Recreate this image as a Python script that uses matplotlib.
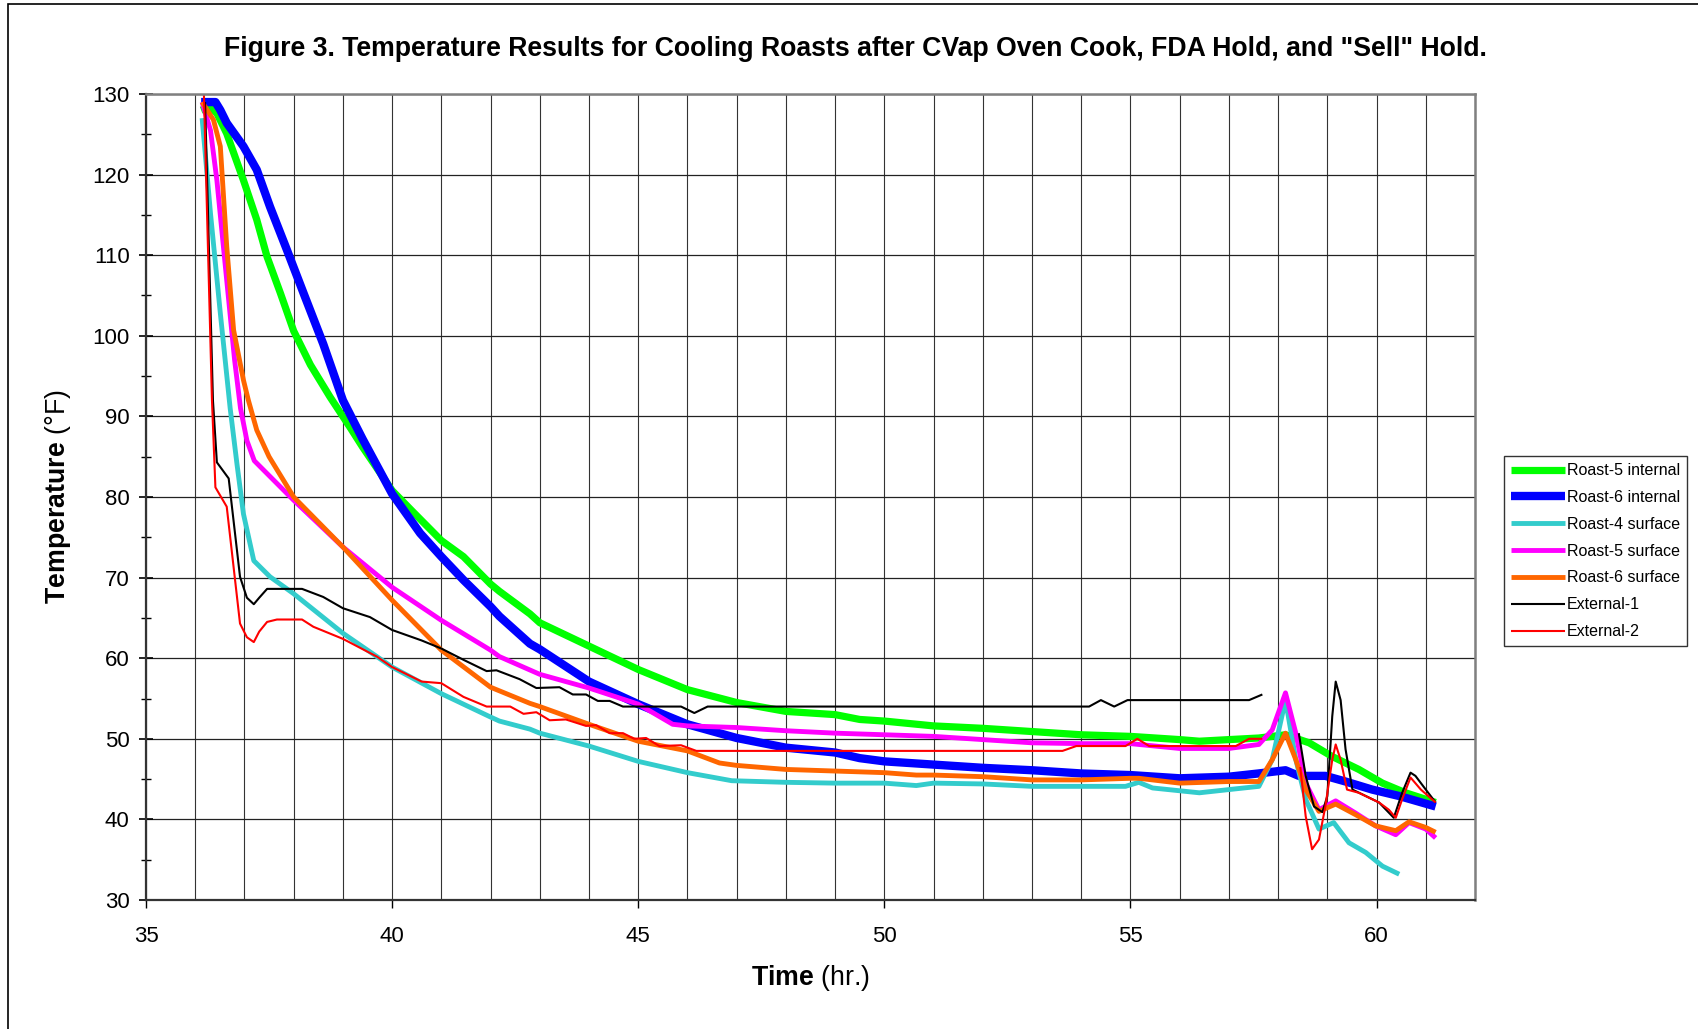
import numpy as np
import matplotlib
matplotlib.use("Agg")
import matplotlib.pyplot as plt
from matplotlib.patches import Rectangle
from matplotlib.ticker import MultipleLocator

plt.rcParams['font.family'] = ['Liberation Sans', 'DejaVu Sans']
plt.rcParams['mathtext.fontset'] = 'custom'
plt.rcParams['mathtext.rm'] = 'Liberation Sans'
plt.rcParams['mathtext.bf'] = 'Liberation Sans:bold'

nan = np.nan

# Roast-5 internal
r5i_t = [36.12, 36.3, 36.44, 36.64, 36.98, 37.25, 37.46, 37.73, 38.0, 38.34, 38.74, 39.15, 39.4, 40.0, 40.4,
         41.0, 41.45, 42.0, 42.18, 42.8, 43.0, 44.0, 45.0, 46.0, 47.0, 48.0, 49.0, 49.5, 50.0, 51.0, 52.0,
         53.0, 54.0, 55.0, 56.0, 56.4, 57.0, 57.61, 58.15, 58.63, 59.1, 59.64, 60.12, 60.59, 61.2]
r5i_T = [128.0, 128.4, 127.6, 125.1, 119.3, 114.4, 109.8, 105.3, 100.6, 96.4, 92.4, 88.6, 86.2, 80.8, 78.3,
         74.6, 72.6, 69.2, 68.3, 65.5, 64.4, 61.5, 58.6, 56.1, 54.5, 53.4, 53.0, 52.4, 52.2, 51.6, 51.3,
         50.9, 50.5, 50.3, 49.9, 49.7, 49.9, 50.1, 50.5, 49.5, 47.8, 46.2, 44.5, 43.3, 42.1]

# Roast-6 internal
r6i_t = [36.12, 36.41, 36.51, 36.64, 36.98, 37.25, 37.52, 37.86, 38.2, 38.6, 39.0, 39.4, 40.0, 40.57, 41.0,
         41.45, 42.0, 42.18, 42.8, 43.0, 44.0, 45.0, 46.0, 47.0, 48.0, 49.0, 49.5, 50.0, 51.0, 52.0, 53.0,
         54.0, 55.0, 56.0, 57.0, 57.6, 58.15, 58.42, 58.96, 59.37, 59.91, 60.46, 61.2]
r6i_T = [129.0, 129.0, 128.0, 126.4, 123.5, 120.6, 116.0, 110.7, 105.3, 99.0, 92.0, 87.2, 80.4, 75.5, 72.6,
         69.7, 66.4, 65.2, 61.8, 61.1, 57.1, 54.3, 51.8, 50.1, 48.9, 48.3, 47.6, 47.2, 46.8, 46.4, 46.1,
         45.7, 45.5, 45.1, 45.3, 45.7, 46.1, 45.4, 45.4, 44.7, 43.7, 42.9, 41.6]

# Roast-4 surface
r4s_t = [36.14, 36.31, 36.51, 36.71, 36.85, 36.98, 37.19, 37.52, 38.0, 39.0, 40.0, 41.0, 42.0, 42.18, 42.8,
         43.0, 44.0, 45.0, 46.0, 46.9, 48.0, 49.0, 50.0, 50.65, 51.0, 52.0, 53.0, 54.0, 54.9, 55.17, 55.45,
         56.4, 57.0, 57.61, 57.88, 58.15, 58.36, 58.56, 58.83, 59.13, 59.44, 59.78, 60.12, 60.46]
r4s_T = [127.0, 115.2, 102.8, 91.0, 84.0, 77.9, 72.1, 70.1, 68.0, 63.1, 58.9, 55.6, 52.7, 52.2, 51.2,
         50.7, 49.1, 47.2, 45.8, 44.8, 44.6, 44.5, 44.5, 44.2, 44.5, 44.4, 44.1, 44.1, 44.1, 44.6, 43.9,
         43.3, 43.7, 44.1, 47.4, 54.8, 47.4, 42.5, 38.8, 39.6, 37.1, 35.9, 34.2, 33.2]

# Roast-5 surface
r5s_t = [36.14, 36.31, 36.44, 36.64, 36.8, 36.92, 37.05, 37.2, 38.0, 39.0, 40.0, 41.0, 42.0, 42.18, 43.0,
         44.0, 45.0, 45.7, 46.0, 47.0, 48.0, 49.0, 50.0, 51.0, 52.0, 53.0, 54.0, 55.0, 56.0, 57.0, 57.61,
         57.88, 58.15, 58.36, 58.56, 58.83, 59.17, 59.57, 59.98, 60.39, 60.66, 61.0, 61.2]
r5s_T = [129.0, 125.5, 119.3, 106.9, 97.0, 91.0, 87.0, 84.5, 79.6, 73.8, 68.8, 64.7, 61.0, 60.2, 58.0,
         56.3, 54.3, 51.8, 51.6, 51.4, 51.0, 50.7, 50.5, 50.3, 49.9, 49.5, 49.4, 49.4, 48.8, 48.8, 49.3,
         51.1, 55.7, 50.7, 44.5, 41.2, 42.3, 40.8, 39.2, 38.1, 39.6, 38.8, 37.7]

# Roast-6 surface
r6s_t = [36.14, 36.37, 36.51, 36.64, 36.78, 36.98, 37.08, 37.25, 37.5, 38.0, 39.0, 40.0, 41.0, 42.0, 42.8,
         43.0, 44.0, 45.0, 46.0, 46.65, 47.0, 48.0, 49.0, 50.0, 50.65, 51.0, 52.0, 53.0, 54.0, 55.0, 55.17,
         56.0, 57.0, 57.61, 57.88, 58.15, 58.36, 58.56, 58.83, 59.17, 59.57, 59.98, 60.39, 60.66, 61.0, 61.2]
r6s_T = [129.0, 126.8, 123.5, 111.1, 100.7, 94.5, 92.0, 88.3, 85.0, 80.0, 73.8, 67.2, 61.0, 56.4, 54.4,
         54.0, 51.8, 49.7, 48.5, 47.0, 46.7, 46.2, 46.0, 45.8, 45.5, 45.5, 45.3, 44.9, 44.9, 45.1, 45.1,
         44.5, 44.7, 44.7, 47.4, 50.7, 47.4, 43.7, 41.0, 41.9, 40.6, 39.2, 38.6, 39.7, 39.0, 38.4]

# External-1 (gap between segments)
ext1_t = [36.2, 36.36, 36.44, 36.68, 36.91, 37.05, 37.19, 37.3, 37.46, 38.17, 38.6, 39.0, 39.55, 40.0, 40.6,
          41.0, 41.45, 41.92, 42.12, 42.59, 42.93, 43.4, 43.67, 43.94, 44.18, 44.42, 44.69, 45.87, 46.14,
          46.41, 54.16, 54.4, 54.67, 54.94, 57.41, 57.68, nan,
          58.42, 58.56, 58.73, 58.9, 59.0, 59.1, 59.17, 59.27, 59.37, 59.51, 59.78, 60.05, 60.35, 60.52,
          60.69, 60.79, 61.0, 61.2]
ext1_T = [129.0, 92.0, 84.3, 82.3, 70.1, 67.5, 66.7, 67.5, 68.6, 68.6, 67.6, 66.2, 65.1, 63.5, 62.2,
          61.2, 59.8, 58.4, 58.5, 57.4, 56.3, 56.4, 55.5, 55.5, 54.7, 54.7, 54.0, 54.0, 53.2,
          54.0, 54.0, 54.8, 54.0, 54.8, 54.8, 55.5, nan,
          50.7, 45.4, 41.6, 40.9, 42.9, 52.8, 57.1, 54.8, 48.7, 43.7, 42.9, 42.1, 40.2, 43.3,
          45.8, 45.4, 43.7, 42.1]

# External-2 (gap between segments)
ext2_t = [36.17, 36.34, 36.41, 36.64, 36.91, 37.05, 37.19, 37.3, 37.46, 37.66, 38.17, 38.4, 39.0, 39.69,
          40.0, 40.6, 41.0, 41.45, 41.92, 42.4, 42.67, 42.93, 43.2, 43.53, 43.94, 44.14, 44.42, 44.69, 44.92,
          45.16, 45.43, 45.87, 46.18, 53.62, 53.9, 54.9, 55.14, 55.38, 57.14, 57.41, 57.68, nan,
          58.45, 58.56, 58.69, 58.83, 58.96, 59.1, 59.17, 59.27, 59.4, 59.64, 60.05, 60.25, 60.39, 60.52,
          60.69, 60.9, 61.2]
ext2_T = [131.5, 92.0, 81.2, 78.8, 64.3, 62.6, 62.0, 63.3, 64.5, 64.8, 64.8, 63.9, 62.4, 60.2,
          58.9, 57.1, 56.9, 55.2, 54.0, 54.0, 53.1, 53.3, 52.3, 52.4, 51.6, 51.7, 50.7, 50.7, 50.0,
          50.1, 49.1, 49.2, 48.5, 48.5, 49.1, 49.1, 50.0, 49.1, 49.1, 50.0, 50.0, nan,
          46.5, 40.4, 36.3, 37.5, 41.6, 47.4, 49.3, 47.4, 43.7, 43.3, 42.1, 41.2, 40.2, 42.5,
          45.2, 43.7, 42.1]

labels = ["Roast-5 internal", "Roast-6 internal", "Roast-4 surface", "Roast-5 surface",
          "Roast-6 surface", "External-1", "External-2"]
title = 'Figure 3. Temperature Results for Cooling Roasts after CVap Oven Cook, FDA Hold, and "Sell" Hold.'

series = [(r5i_t, r5i_T, '#00FF00', 5.2),
          (r6i_t, r6i_T, '#0000FF', 6.0),
          (r4s_t, r4s_T, '#33CCCC', 3.5),
          (r5s_t, r5s_T, '#FF00FF', 3.5),
          (r6s_t, r6s_T, '#FF6600', 3.5),
          (ext1_t, ext1_T, '#000000', 1.5),
          (ext2_t, ext2_T, '#FF0000', 1.5)]

fig = plt.figure(figsize=(16.98, 10.29), dpi=100)
ax = fig.add_axes([146/1698, 1-900/1029, (1475-146)/1698, (900-94)/1029])

for (t, T, c, lw), lab in zip(series, labels):
    ax.plot(t, T, color=c, lw=lw, label=lab, solid_joinstyle='round', solid_capstyle='butt')

ax.set_xlim(35, 62)
ax.set_ylim(30, 130)
ax.xaxis.set_major_locator(MultipleLocator(5))
ax.xaxis.set_minor_locator(MultipleLocator(1))
ax.yaxis.set_major_locator(MultipleLocator(10))
ax.yaxis.set_minor_locator(MultipleLocator(5))
ax.grid(True, which='major', axis='y', color='#222222', lw=0.9)
ax.grid(True, which='both', axis='x', color='#333333', lw=0.8)
ax.set_axisbelow(True)

ax.tick_params(axis='y', which='major', direction='inout', length=9.5, width=1.2, labelsize=16, pad=7)
ax.tick_params(axis='y', which='minor', direction='inout', length=7, width=1.0)
ax.tick_params(axis='x', which='major', direction='out', length=5.5, width=1.0, labelsize=16, pad=13)
ax.tick_params(axis='x', which='minor', length=0)

for s in ['left', 'bottom']:
    ax.spines[s].set_color('#333333')
    ax.spines[s].set_linewidth(1.6)
for s in ['top', 'right']:
    ax.spines[s].set_color('#808080')
    ax.spines[s].set_linewidth(1.8)

ax.set_xlabel(r'$\mathbf{Time}$ (hr.)', fontsize=19.3, labelpad=12)
ax.set_ylabel(r'$\mathbf{Temperature}$ (°F)', fontsize=19.3, labelpad=14)

fig.text(855/1698, 1-49/1029, title, ha='center', va='center', fontsize=19.2, fontweight='bold')

leg = ax.legend(loc='upper left', bbox_to_anchor=(1504/1698, 1-456/1029), bbox_transform=fig.transFigure,
                borderaxespad=0, fontsize=11.5, frameon=True, fancybox=False, handlelength=3.4,
                handletextpad=0.1, labelspacing=0.74, borderpad=0.45)
leg.get_frame().set_edgecolor('black')
leg.get_frame().set_linewidth(1.0)

fig.patches.append(Rectangle((8/1698, -0.1), 1.2, 1.1 - 4/1029, transform=fig.transFigure,
                             fill=False, edgecolor='black', lw=1.2))

fig.savefig('out.png', dpi=100)
